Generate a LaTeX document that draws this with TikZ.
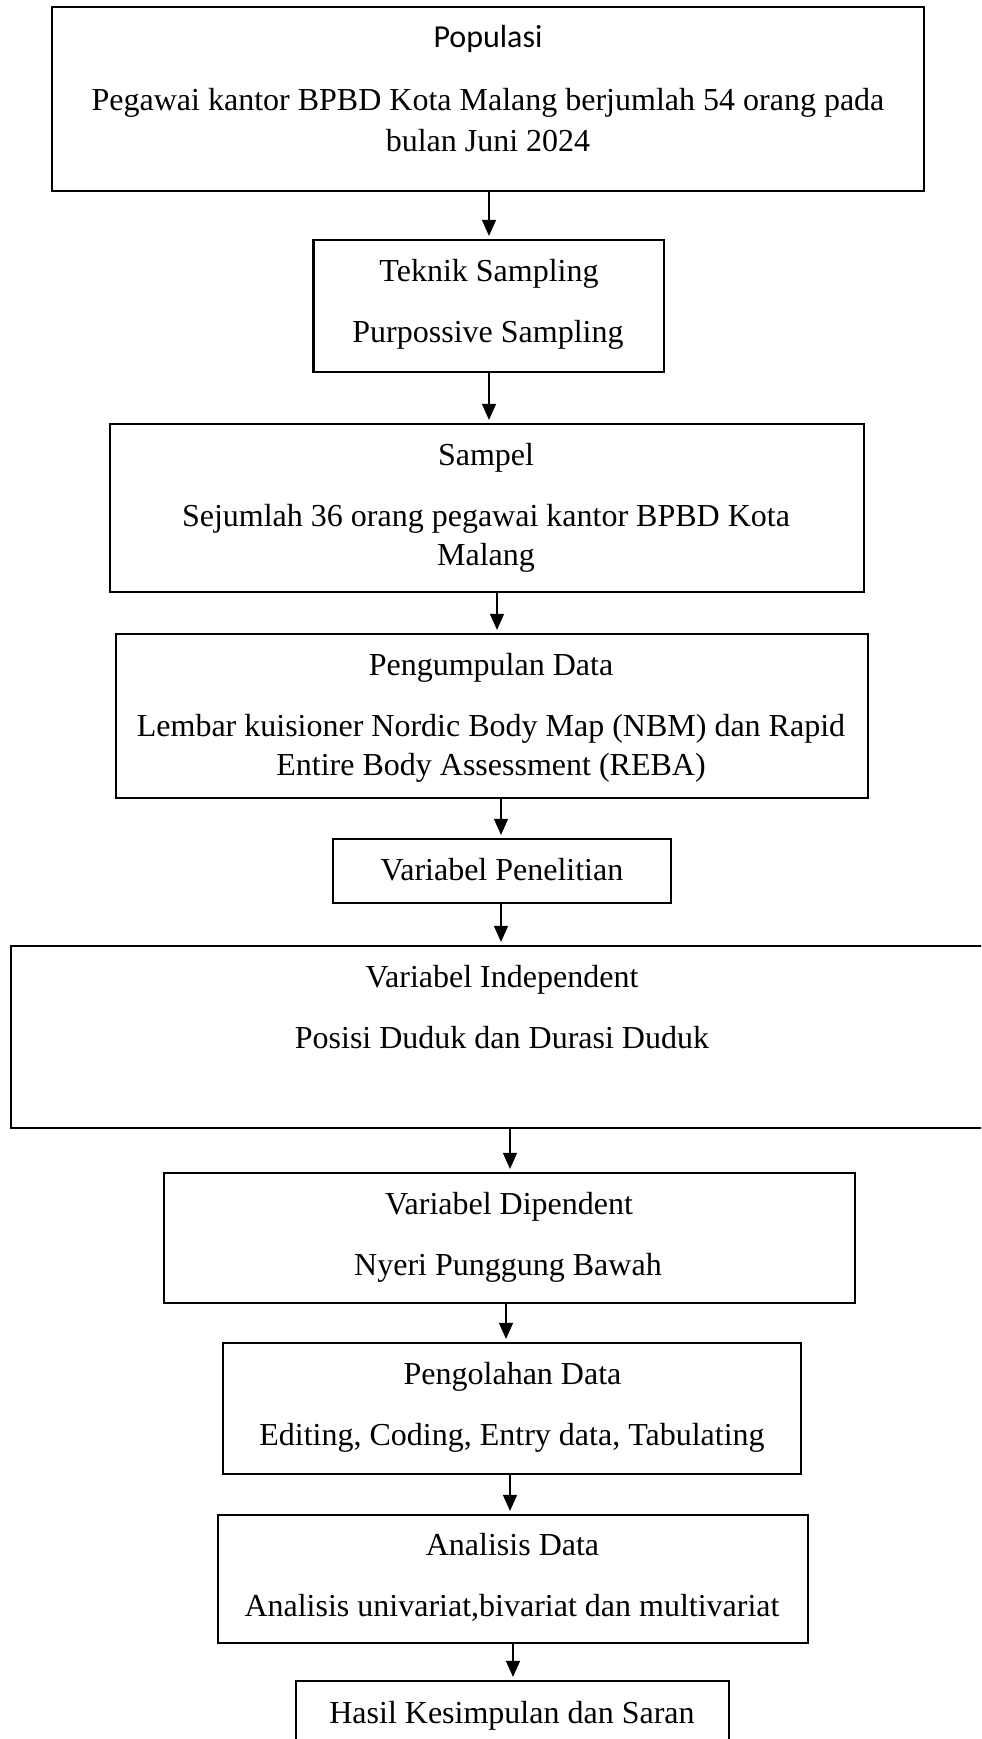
\documentclass[tikz,border=0pt]{standalone}
\usepackage{fontspec}
\setmainfont{Liberation Serif}
\newfontfamily\calfont{Carlito}
\usetikzlibrary{arrows.meta}
\begin{document}
\begin{tikzpicture}[x=0.5pt,y=-0.5pt,
  box/.style={draw, line width=1.1pt, rectangle, inner sep=0pt},
  txt/.style={anchor=base, inner sep=0pt, font=\fontsize{16pt}{19pt}\selectfont},
  arr/.style={-{Triangle[length=8pt,width=7pt]}, line width=0.6pt, shorten >=1.5pt}]
\clip (0,0) rectangle (981,1739);
% boxes
\node[box, minimum width=436pt, minimum height=92pt] (pop) at (488,99) {};
\node[box, minimum width=175.25pt, minimum height=66pt] (tek) at (488.75,306) {};
\node[box, minimum width=377pt, minimum height=84pt] (sam) at (487,508) {};
\node[box, minimum width=376pt, minimum height=82pt] (pen) at (492,716) {};
\node[box, minimum width=169pt, minimum height=32pt] (var) at (502,871) {};
\node[box, minimum width=492pt, minimum height=91pt] (ind) at (503,1037) {};
\node[box, minimum width=345.5pt, minimum height=65pt] (dep) at (509.5,1238) {};
\node[box, minimum width=289pt, minimum height=65.5pt] (olah) at (512,1408.5) {};
\node[box, minimum width=295pt, minimum height=64pt] (ana) at (513,1579) {};
\node[box, minimum width=216.5pt, minimum height=39pt] (has) at (512.5,1720) {};
% texts
\node[txt, font=\calfont\fontsize{16pt}{19pt}\selectfont] (t1a) at (488,48) {Populasi};
\node[txt] (t1b) at (488,111) {Pegawai kantor BPBD Kota Malang berjumlah 54 orang pada};
\node[txt] (t1c) at (488,151.5) {bulan Juni 2024};
\node[txt] (t2a) at (489,281.5) {Teknik Sampling};
\node[txt] (t2b) at (488,342) {Purpossive Sampling};
\node[txt] (t3a) at (486,465) {Sampel};
\node[txt] (t3b) at (486,526.5) {Sejumlah 36 orang pegawai kantor BPBD Kota};
\node[txt] (t3c) at (486,565.5) {Malang};
\node[txt] (t4a) at (491,675) {Pengumpulan Data};
\node[txt] (t4b) at (491,736.5) {Lembar kuisioner Nordic Body Map (NBM) dan Rapid};
\node[txt] (t4c) at (491,775) {Entire Body Assessment (REBA)};
\node[txt] (t5a) at (502,880) {Variabel Penelitian};
\node[txt] (t6a) at (502,987) {Variabel Independent};
\node[txt] (t6b) at (502,1048) {Posisi Duduk dan Durasi Duduk};
\node[txt] (t7a) at (509,1214) {Variabel Dipendent};
\node[txt] (t7b) at (508,1275) {Nyeri Punggung Bawah};
\node[txt] (t8a) at (512.5,1384) {Pengolahan Data};
\node[txt] (t8b) at (512,1445.5) {Editing, Coding, Entry data, Tabulating};
\node[txt] (t9a) at (512.5,1555) {Analisis Data};
\node[txt] (t9b) at (512,1616.5) {Analisis univariat,bivariat dan multivariat};
\node[txt] (t10a) at (512,1723) {Hasil Kesimpulan dan Saran};
% arrow columns
\coordinate (c1) at (489,0);
\coordinate (c2) at (489,0);
\coordinate (c3) at (497,0);
\coordinate (c4) at (501,0);
\coordinate (c5) at (501,0);
\coordinate (c6) at (510,0);
\coordinate (c7) at (506,0);
\coordinate (c8) at (510,0);
\coordinate (c9) at (513,0);
\draw[arr] (pop.south -| c1) -- (tek.north -| c1);
\draw[arr] (tek.south -| c2) -- (sam.north -| c2);
\draw[arr] (sam.south -| c3) -- (pen.north -| c3);
\draw[arr] (pen.south -| c4) -- (var.north -| c4);
\draw[arr] (var.south -| c5) -- (ind.north -| c5);
\draw[arr] (ind.south -| c6) -- (dep.north -| c6);
\draw[arr] (dep.south -| c7) -- (olah.north -| c7);
\draw[arr] (olah.south -| c8) -- (ana.north -| c8);
\draw[arr] (ana.south -| c9) -- (has.north -| c9);
\end{tikzpicture}
\end{document}
